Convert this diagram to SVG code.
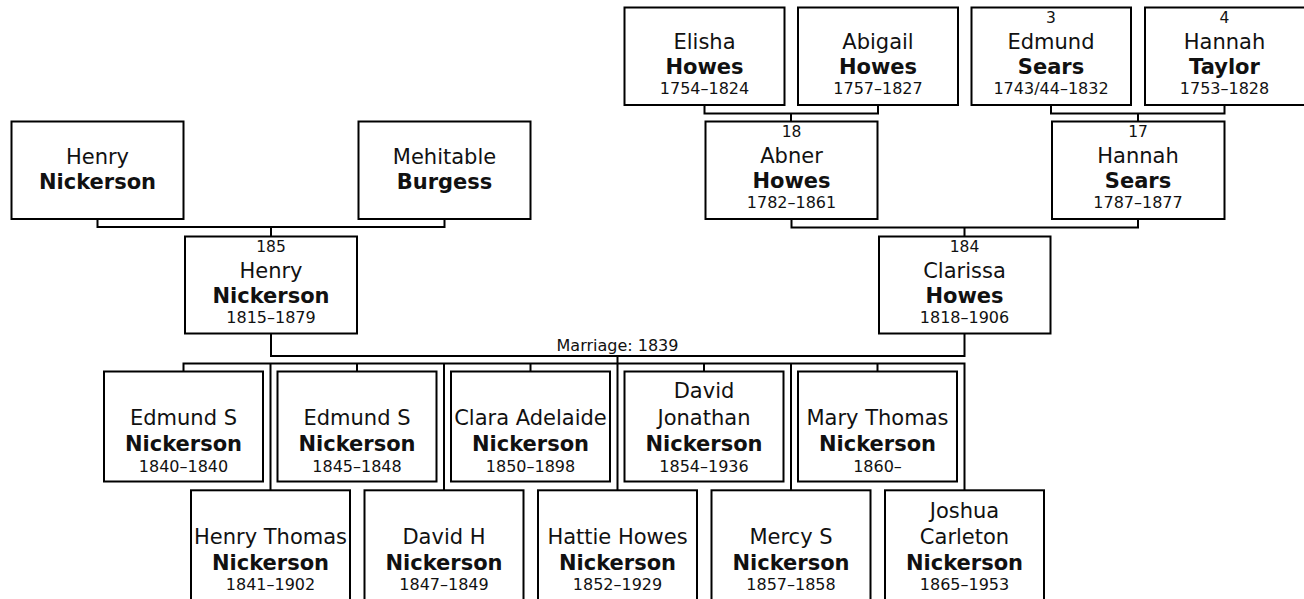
<svg xmlns="http://www.w3.org/2000/svg" width="1304" height="599" viewBox="0 0 1304 599">
<style>
.box{fill:#fff;stroke:#000;stroke-width:2}
.ln{fill:none;stroke:#000;stroke-width:2}
text{font-family:"DejaVu Sans",Verdana,sans-serif;fill:#111;text-anchor:middle}
.n{font-size:21px}
.s{font-size:21px;font-weight:bold}
.d{font-size:16px}
.num{font-size:15.5px}
.m{font-size:16px}
</style>
<rect width="1304" height="599" fill="#fff"/>
<g id="connectors">
<path class="ln" d="M704.5 106V113.5H878V106M791 113.5V121"/>
<path class="ln" d="M1051 106V113.5H1224.5V106M1138 113.5V121"/>
<path class="ln" d="M97.5 220V227H444.5V220M271 227V236"/>
<path class="ln" d="M791.5 220V227.5H1138V220M964.5 227.5V236"/>
<path class="ln" d="M271 334V356H964.5V334M617.5 356V490"/>
<text class="m" x="617.5" y="351">Marriage: 1839</text>
<path class="ln" d="M183.5 371V363.5H964.5V490"/>
<path class="ln" d="M357 363.5V371M530.5 363.5V371M704 363.5V371M877.5 363.5V371"/>
<path class="ln" d="M270.5 363.5V490M444 363.5V490M791 363.5V490"/>
</g>
<g id="elisha"><rect class="box" x="624.5" y="7.5" width="160" height="97.5"/>
<text class="n" x="704.5" y="49">Elisha</text><text class="s" x="704.5" y="74">Howes</text><text class="d" x="704.5" y="93.5">1754–1824</text></g>
<g id="abigail"><rect class="box" x="798" y="7.5" width="160" height="97.5"/>
<text class="n" x="878" y="49">Abigail</text><text class="s" x="878" y="74">Howes</text><text class="d" x="878" y="93.5">1757–1827</text></g>
<g id="edmund-sears"><rect class="box" x="971.5" y="7.5" width="159.5" height="97.5"/>
<text class="num" x="1051" y="23">3</text><text class="n" x="1051" y="49">Edmund</text><text class="s" x="1051" y="74">Sears</text><text class="d" x="1051" y="93.5">1743/44–1832</text></g>
<g id="hannah-taylor"><rect class="box" x="1145" y="7.5" width="160" height="97.5"/>
<text class="num" x="1224.5" y="23">4</text><text class="n" x="1224.5" y="49">Hannah</text><text class="s" x="1224.5" y="74">Taylor</text><text class="d" x="1224.5" y="93.5">1753–1828</text></g>
<g id="henry-sr"><rect class="box" x="11.5" y="121.5" width="172" height="97.5"/>
<text class="n" x="97.5" y="163.5">Henry</text><text class="s" x="97.5" y="188.5">Nickerson</text></g>
<g id="mehitable"><rect class="box" x="358.5" y="121.5" width="172" height="97.5"/>
<text class="n" x="444.5" y="163.5">Mehitable</text><text class="s" x="444.5" y="188.5">Burgess</text></g>
<g id="abner"><rect class="box" x="705.5" y="121.5" width="172" height="97.5"/>
<text class="num" x="791.5" y="137">18</text><text class="n" x="791.5" y="163">Abner</text><text class="s" x="791.5" y="188">Howes</text><text class="d" x="791.5" y="208">1782–1861</text></g>
<g id="hannah-sears"><rect class="box" x="1052" y="121.5" width="172.5" height="97.5"/>
<text class="num" x="1138" y="137">17</text><text class="n" x="1138" y="163">Hannah</text><text class="s" x="1138" y="188">Sears</text><text class="d" x="1138" y="208">1787–1877</text></g>
<g id="henry"><rect class="box" x="185" y="236.5" width="172" height="97"/>
<text class="num" x="271" y="252">185</text><text class="n" x="271" y="278">Henry</text><text class="s" x="271" y="303">Nickerson</text><text class="d" x="271" y="323">1815–1879</text></g>
<g id="clarissa"><rect class="box" x="879" y="236.5" width="171.5" height="97"/>
<text class="num" x="964.5" y="252">184</text><text class="n" x="964.5" y="278">Clarissa</text><text class="s" x="964.5" y="303">Howes</text><text class="d" x="964.5" y="323">1818–1906</text></g>
<g id="edmund1"><rect class="box" x="104" y="371.5" width="159" height="110"/>
<text class="n" x="183.5" y="425">Edmund S</text><text class="s" x="183.5" y="450.7">Nickerson</text><text class="d" x="183.5" y="471.5">1840–1840</text></g>
<g id="edmund2"><rect class="box" x="277.5" y="371.5" width="159" height="110"/>
<text class="n" x="357" y="425">Edmund S</text><text class="s" x="357" y="450.7">Nickerson</text><text class="d" x="357" y="471.5">1845–1848</text></g>
<g id="clara"><rect class="box" x="451" y="371.5" width="159" height="110"/>
<text class="n" x="530.5" y="425">Clara Adelaide</text><text class="s" x="530.5" y="450.7">Nickerson</text><text class="d" x="530.5" y="471.5">1850–1898</text></g>
<g id="david-j"><rect class="box" x="624.5" y="371.5" width="159" height="110"/>
<text class="n" x="704" y="398.3">David</text><text class="n" x="704" y="425">Jonathan</text><text class="s" x="704" y="450.7">Nickerson</text><text class="d" x="704" y="471.5">1854–1936</text></g>
<g id="mary"><rect class="box" x="798" y="371.5" width="159" height="110"/>
<text class="n" x="877.5" y="425">Mary Thomas</text><text class="s" x="877.5" y="450.7">Nickerson</text><text class="d" x="877.5" y="471.5">1860–</text></g>
<g id="henry-t"><rect class="box" x="191" y="490.3" width="159" height="110"/>
<text class="n" x="270.5" y="544">Henry Thomas</text><text class="s" x="270.5" y="570">Nickerson</text><text class="d" x="270.5" y="590">1841–1902</text></g>
<g id="david-h"><rect class="box" x="364.5" y="490.3" width="159" height="110"/>
<text class="n" x="444" y="544">David H</text><text class="s" x="444" y="570">Nickerson</text><text class="d" x="444" y="590">1847–1849</text></g>
<g id="hattie"><rect class="box" x="538" y="490.3" width="159" height="110"/>
<text class="n" x="617.5" y="544">Hattie Howes</text><text class="s" x="617.5" y="570">Nickerson</text><text class="d" x="617.5" y="590">1852–1929</text></g>
<g id="mercy"><rect class="box" x="711.5" y="490.3" width="159" height="110"/>
<text class="n" x="791" y="544">Mercy S</text><text class="s" x="791" y="570">Nickerson</text><text class="d" x="791" y="590">1857–1858</text></g>
<g id="joshua"><rect class="box" x="885" y="490.3" width="159" height="110"/>
<text class="n" x="964.5" y="517.5">Joshua</text><text class="n" x="964.5" y="544">Carleton</text><text class="s" x="964.5" y="570">Nickerson</text><text class="d" x="964.5" y="590">1865–1953</text></g>
</svg>
